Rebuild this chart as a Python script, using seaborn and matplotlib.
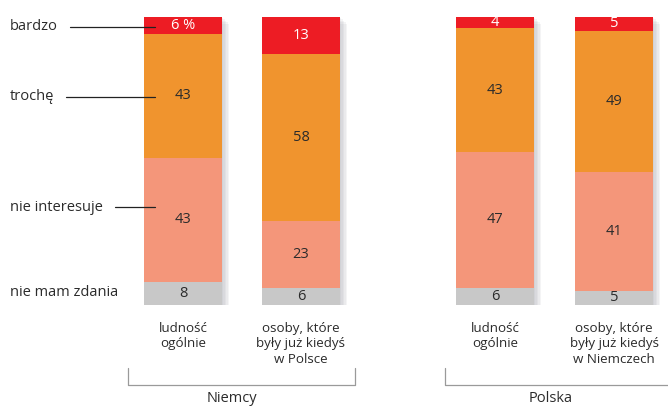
import numpy as np
import pandas as pd
import matplotlib
matplotlib.use("Agg")
import matplotlib.pyplot as plt
import matplotlib.patheffects as pe
from matplotlib.lines import Line2D
import seaborn as sns

# ---- data ----
categories = ["ludność\nogólnie", "osoby, które\nbyły już kiedyś\nw Polsce",
              "ludność\nogólnie", "osoby, które\nbyły już kiedyś\nw Niemczech"]
groups = ["Niemcy", "Niemcy", "Polska", "Polska"]
series_names = ["nie mam zdania", "nie interesuje", "trochę", "bardzo"]
nie_mam_zdania = [8, 6, 6, 5]
nie_interesuje = [43, 23, 47, 41]
troche = [43, 58, 43, 49]
bardzo = [6, 13, 4, 5]
value_labels_bardzo = ["6 %", "13", "4", "5"]

# ---- layout / style ----
W, H = 668, 407
positions = [0.0, 1.0, 2.644, 3.653]
bar_width = 0.661
colors = ["#c8c8c8", "#f4967a", "#f0942e", "#ed1c24"]
text_dark = "#2b2b2b"

sns.set_theme(style="white")
plt.rcParams['font.family'] = ['Open Sans', 'DejaVu Sans']

fig = plt.figure(figsize=(W / 100, H / 100), dpi=100)
y0_px, y100_px = 305, 16.7
ax = fig.add_axes([0, (H - y0_px) / H, 1, (y0_px - y100_px) / H])
x_left = -183 / 118
x_right = (W - 183) / 118

layers = [nie_mam_zdania, nie_interesuje, troche, bardzo]
cum = np.cumsum(np.array(layers), axis=0)

# soft shadow effects
shadow = [pe.SimplePatchShadow(offset=(k, -k), shadow_rgbFace="#8a8f99", alpha=0.09)
          for k in (5, 4, 3, 2, 1)] + [pe.Normal()]

# draw cumulative layers from top to bottom
for i in range(len(layers) - 1, -1, -1):
    df = pd.DataFrame({"pos": positions, "val": cum[i]})
    n_before = len(ax.patches)
    sns.barplot(data=df, x="pos", y="val", native_scale=True, orient="x",
                width=bar_width, color=colors[i], saturation=1,
                errorbar=None, ax=ax, linewidth=0)
    if i == len(layers) - 1:
        for p in ax.patches[n_before:]:
            p.set_path_effects(shadow)
ax.set_xlim(x_left, x_right)
ax.set_ylim(0, 100)
ax.axis("off")

# value labels
for j, x in enumerate(positions):
    for i, layer in enumerate(layers):
        bottom = cum[i][j] - layer[j]
        mid = bottom + layer[j] / 2
        if i == 3:
            lab = value_labels_bardzo[j]
            col = "white"
        else:
            lab = str(layer[j])
            col = text_dark
        ax.text(x, mid, lab, ha="center", va="center", fontsize=10.5, color=col)

def fx(px):
    return px / W

def fy(py):
    return 1 - py / H

# category labels under bars
for j, x in enumerate(positions):
    ax.annotate(categories[j], xy=(x, 0), xycoords="data",
                xytext=(0, -12), textcoords="offset points",
                ha="center", va="top", fontsize=9.6, color=text_dark,
                linespacing=1.27, annotation_clip=False)

# left legend labels with leader lines
legend_items = [("bardzo", 27, 70), ("trochę", 97, 66), ("nie interesuje", 207, 115), ("nie mam zdania", 293, None)]
for name, py, lx in legend_items:
    fig.text(fx(10), fy(py), name, ha="left", va="center", fontsize=10.5, color=text_dark)
    if lx is not None:
        fig.add_artist(Line2D([fx(lx), fx(155)], [fy(py), fy(py)], color="#222222", lw=0.9))

# group brackets
bracket_color = "#9a9a9a"
for gname, x1, x2, tx in [("Niemcy", 128, 355, 232), ("Polska", 445, 672, 551)]:
    fig.add_artist(Line2D([fx(x1), fx(x1), fx(x2), fx(x2)],
                          [fy(368), fy(385), fy(385), fy(368)], color=bracket_color, lw=0.9))
    fig.text(fx(tx), fy(399), gname, ha="center", va="center", fontsize=10.5, color=text_dark)

fig.savefig("out.png", dpi=100)
